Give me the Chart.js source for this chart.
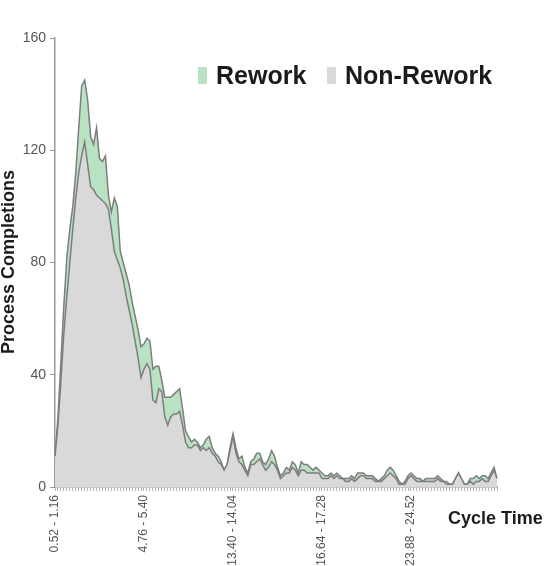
<!DOCTYPE html>
<html>
<head>
<meta charset="utf-8">
<script src="https://cdn.jsdelivr.net/npm/chart.js@4.4.1/dist/chart.umd.min.js"></script>
<style>
  html, body { margin: 0; padding: 0; background: #ffffff; }
  #wrap { width: 559px; height: 566px; position: relative; }
</style>
</head>
<body>
<div id="wrap"><canvas id="c" width="559" height="566"></canvas></div>
<script>
// ---- data ----
const seriesNames = ["Rework", "Non-Rework"];
const nonRework = [
  11,22,38,55,68,80,92,103,112,118,123,115,107,106,104,103,102,101,99,92,
  84,81,78,74,68,63,58,52,46,39,42,44,42,31,30,35,34,25,22,25,
  26,26,27,22,16,14,14,15,15,13,14,13,14,12,11,9,8,6,8,13,
  18,12,9,8,6,4,8,8,9,10,8,6,7,9,8,6,3,4,5,5,
  7,6,4,6,6,5,5,5,5,5,3,3,3,4,3,4,3,3,2,2,
  3,2,3,4,4,3,3,3,2,2,2,3,4,5,4,3,1,1,1,3,
  4,3,2,2,2,2,2,2,2,3,2,2,1,1,1,3,5,3,1,1,
  2,1,2,2,3,2,2,4,6,3
];
const rework = [
  0,3,7,10,14,12,8,9,16,25,22,23,18,16,24,14,14,17,5,6,
  19,19,6,6,8,9,8,9,10,11,9,9,10,11,13,8,4,7,10,7,
  7,8,8,6,4,4,2,2,1,1,1,4,4,2,1,2,1,0,0,1,
  1,2,1,3,1,1,1,2,3,2,1,2,3,4,3,1,1,1,2,1,
  2,2,1,3,2,3,2,1,2,1,2,1,1,1,1,1,1,0,1,1,
  1,1,2,1,1,1,1,1,1,0,1,1,2,2,2,1,1,0,1,1,
  1,1,1,1,0,1,1,1,1,1,1,0,1,0,0,0,0,0,0,0,
  1,2,2,1,1,2,1,1,1,0
];
const tickIndices = [0, 30, 60, 90, 120];
const tickLabels = ["0.52 - 1.16", "4.76 - 5.40", "13.40 - 14.04", "16.64 - 17.28", "23.88 - 24.52"];
const yTicks = [0, 40, 80, 120, 160];
const yAxisTitle = "Process Completions";
const xAxisTitle = "Cycle Time";

const categories = nonRework.map((_, i) => i);

const FONT = "'Liberation Sans', Arial, sans-serif";
const colors = { rework: "#b8e2c2", nonRework: "#d9d9d9", line: "#7d7d7d" };

const overlayText = {
  id: "overlayText",
  afterDraw(chart) {
    const ctx = chart.ctx;
    ctx.save();
    // y-axis title
    ctx.fillStyle = "#1c1c1c";
    ctx.font = "bold 18px " + FONT;
    ctx.textAlign = "center";
    ctx.textBaseline = "alphabetic";
    ctx.translate(14, 262);
    ctx.rotate(-Math.PI / 2);
    ctx.fillText(yAxisTitle, 0, 0);
    ctx.restore();

    ctx.save();
    // x-axis title
    ctx.fillStyle = "#1c1c1c";
    ctx.font = "bold 18px " + FONT;
    ctx.textAlign = "left";
    ctx.textBaseline = "alphabetic";
    ctx.fillText(xAxisTitle, 448, 524);

    // legend
    ctx.font = "bold 25px " + FONT;
    const items = [
      { name: seriesNames[0], color: colors.rework, bx: 198, tx: 216 },
      { name: seriesNames[1], color: colors.nonRework, bx: 327, tx: 345 }
    ];
    items.forEach(it => {
      ctx.fillStyle = it.color;
      ctx.fillRect(it.bx, 67, 9, 17);
      ctx.fillStyle = "#1a1a1a";
      ctx.fillText(it.name, it.tx, 84);
    });
    ctx.restore();
  }
};

new Chart(document.getElementById("c"), {
  type: "line",
  data: {
    labels: categories,
    datasets: [
      {
        label: seriesNames[1],
        data: nonRework,
        backgroundColor: colors.nonRework,
        borderColor: colors.line,
        borderWidth: 1.5,
        fill: "origin",
        pointRadius: 0,
        tension: 0
      },
      {
        label: seriesNames[0],
        data: rework,
        backgroundColor: colors.rework,
        borderColor: colors.line,
        borderWidth: 1.5,
        fill: "-1",
        pointRadius: 0,
        tension: 0
      }
    ]
  },
  options: {
    responsive: false,
    animation: false,
    devicePixelRatio: 1,
    layout: { padding: { left: 0, right: 62, top: 38, bottom: 0 } },
    plugins: {
      legend: { display: false },
      tooltip: { enabled: false }
    },
    scales: {
      x: {
        type: "category",
        stacked: true,
        offset: false,
        afterFit(scale) { scale.height = 79; },
        grid: { drawOnChartArea: false, drawTicks: true, tickLength: 4, color: "#b0b0b0" },
        border: { color: "#9a9a9a", width: 1.5 },
        ticks: {
          autoSkip: false,
          minRotation: 90,
          maxRotation: 90,
          padding: 4,
          color: "#555555",
          font: { family: FONT, size: 12 },
          callback(value, index) {
            const k = tickIndices.indexOf(index);
            return k >= 0 ? tickLabels[k] : "";
          }
        }
      },
      y: {
        stacked: true,
        min: yTicks[0],
        max: yTicks[yTicks.length - 1],
        afterFit(scale) { scale.width = 55; },
        afterBuildTicks(scale) { scale.ticks = yTicks.map(v => ({ value: v })); },
        grid: { drawOnChartArea: false, drawTicks: true, tickLength: 5, color: "#9a9a9a" },
        border: { color: "#9a9a9a", width: 1.5 },
        ticks: {
          padding: 4,
          color: "#555555",
          font: { family: FONT, size: 14 }
        }
      }
    }
  },
  plugins: [overlayText]
});
</script>
</body>
</html>
